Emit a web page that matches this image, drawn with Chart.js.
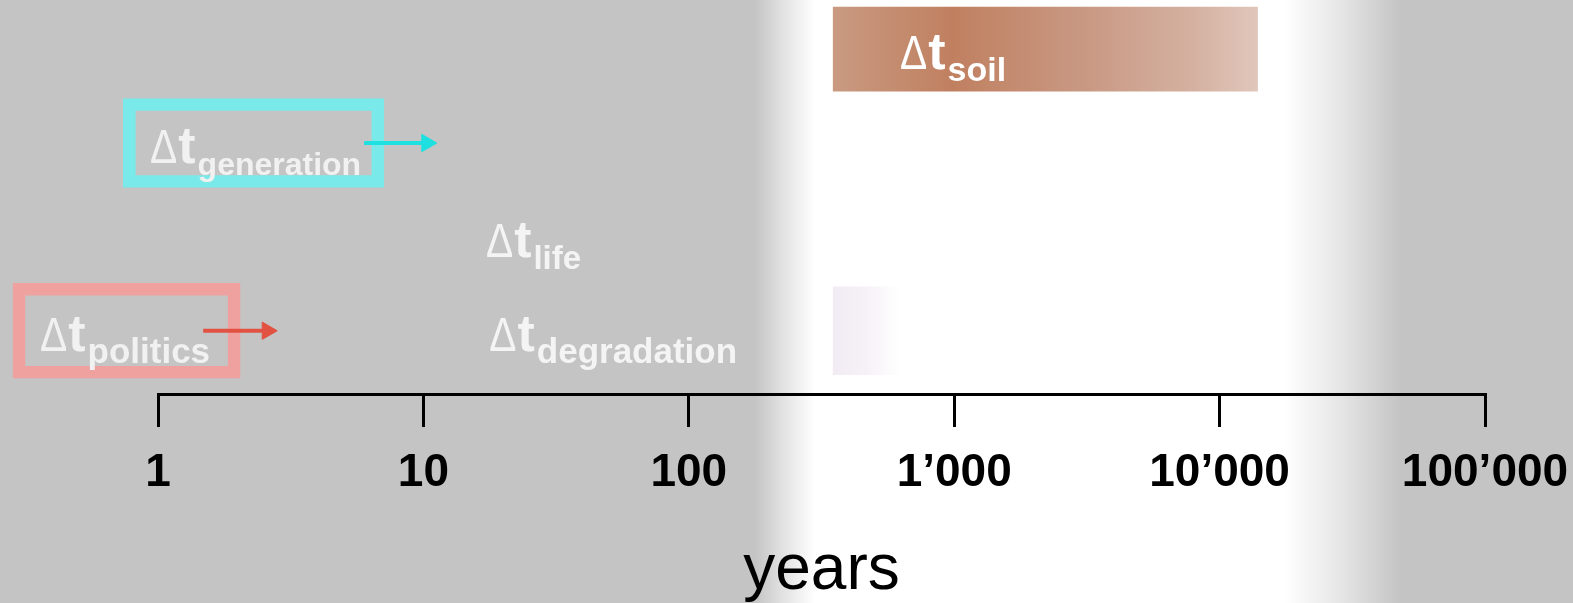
<!DOCTYPE html>
<html>
<head>
<meta charset="utf-8">
<script src="https://cdn.jsdelivr.net/npm/chart.js@4.4.1/dist/chart.umd.min.js"></script>
<style>
html,body{margin:0;padding:0;background:#c4c4c4;overflow:hidden}
#wrap{width:1573px;height:603px;position:relative}
</style>
</head>
<body>
<div id="wrap"><canvas id="c"></canvas></div>
<script>
// ---------------- data ----------------
const items = ['soil', 'generation', 'life', 'degradation', 'politics'];
const itemRows = [1, 2, 3, 4, 4];                 // timeline row of each item (top to bottom)
const soilRange = [350, 13900];                   // years
const degradationRange = [350, 620];              // years
const generationBox = [0.74, 7.1];                // years
const politicsBox = [0.284, 2.04];                // years
const generationArrow = [5.98, 10.3];             // years
const politicsArrow = [1.48, 2.58];               // years
const labelStartYears = [614, 0.917, 16.9, 17.4, 0.353];
const tickValues = [1, 10, 100, 1000, 10000, 100000];
const tickLabels = ['1', '10', '100', '1\u2019000', '10\u2019000', '100\u2019000'];
const axisTitle = 'years';
const whiteBandYears = [177, 230, 299, 17600, 28400, 47800];

// ---------------- styles / helpers ----------------
const rowOf = name => itemRows[items.indexOf(name)];
const GRAY = '#c4c4c4';
const labelColors = ['#ffffff', '#f1f1f1', '#f4f4f4', '#f4f4f4', '#f1f1f1'];
const subSizes = [34, 32, 33, 35, 35];
const FAM = '"Liberation Sans", Arial, sans-serif';

function hasFont(name) {
  const c = document.createElement('canvas').getContext('2d');
  c.font = '40px monospace';
  const w0 = c.measureText('years 1000').width;
  c.font = '40px "' + name + '", monospace';
  return c.measureText('years 1000').width !== w0;
}
const narrowOK = hasFont('Liberation Sans Narrow');
const titleFont = narrowOK
  ? {family: '"Liberation Sans Narrow", "Liberation Sans", Arial, sans-serif', size: 74, weight: 'normal', lineHeight: 1.2}
  : {family: FAM, size: 64, weight: 'normal', lineHeight: 1.2};

function hGrad(chart, range, stops) {
  const xs = chart.scales.x;
  const x0 = xs.getPixelForValue(range[0]);
  const x1 = xs.getPixelForValue(range[1]);
  const g = chart.ctx.createLinearGradient(x0, 0, x1, 0);
  stops.forEach(s => g.addColorStop(s[0], s[1]));
  return g;
}

const bgPlugin = {
  id: 'bg',
  beforeDraw(chart) {
    const ctx = chart.ctx, xs = chart.scales.x;
    const W = chart.width, H = chart.height;
    const px = whiteBandYears.map(v => Math.min(Math.max(xs.getPixelForValue(v) / W, 0), 1));
    const g = ctx.createLinearGradient(0, 0, W, 0);
    g.addColorStop(0, GRAY);
    g.addColorStop(px[0], GRAY);
    g.addColorStop(px[1], '#e4e4e4');
    g.addColorStop(px[2], '#ffffff');
    g.addColorStop(px[3], '#ffffff');
    g.addColorStop(px[4], '#e6e6e6');
    g.addColorStop(px[5], GRAY);
    g.addColorStop(1, GRAY);
    ctx.save();
    ctx.fillStyle = g;
    ctx.fillRect(0, 0, W, H);
    ctx.restore();
  }
};

const labelPlugin = {
  id: 'dtLabels',
  afterDatasetsDraw(chart) {
    const ctx = chart.ctx, xs = chart.scales.x, ys = chart.scales.y;
    items.forEach((name, i) => {
      const x = xs.getPixelForValue(labelStartYears[i]);
      const y = ys.getPixelForValue(itemRows[i]) + 20;
      ctx.save();
      ctx.fillStyle = labelColors[i];
      ctx.textAlign = 'left';
      ctx.textBaseline = 'alphabetic';
      // Delta (thin, slightly condensed)
      ctx.font = 'normal 48px ' + FAM;
      const dw = ctx.measureText('\u0394').width * 0.85;
      ctx.save();
      ctx.translate(x + 2, y);
      ctx.scale(0.85, 1);
      ctx.fillText('\u0394', 0, 0);
      ctx.restore();
      // t (bold)
      ctx.font = 'bold 52px ' + FAM;
      ctx.fillText('t', x + dw + 3, y);
      const tw = ctx.measureText('t').width;
      // subscript
      ctx.font = 'bold ' + subSizes[i] + 'px ' + FAM;
      ctx.fillText(name, x + dw + tw + 5, y + 12);
      ctx.restore();
    });
  }
};

const arrowDs = (range, row, color) => ({
  type: 'line',
  data: [{x: range[0], y: row}, {x: range[1], y: row}],
  borderColor: color,
  backgroundColor: color,
  borderWidth: 4,
  pointRadius: [0, 10],
  pointHoverRadius: [0, 10],
  pointStyle: 'triangle',
  rotation: 90,
  pointBackgroundColor: color,
  pointBorderColor: color,
  pointBorderWidth: 1,
  clip: false,
  order: -1
});

const chart = new Chart(document.getElementById('c'), {
  type: 'bar',
  data: {
    datasets: [
      {
        label: 'soil',
        data: [{x: soilRange, y: rowOf('soil')}],
        backgroundColor: c => c.chart.chartArea ? hGrad(c.chart, soilRange, [
          [0, '#c99a81'], [0.28, '#c08060'], [0.6, '#c99984'], [0.85, '#d5b1a1'], [1, '#e0c7bb']]) : '#c08060',
        barThickness: 84, grouped: false, clip: false, borderWidth: 0
      },
      {
        label: 'degradation',
        data: [{x: degradationRange, y: rowOf('degradation')}],
        backgroundColor: c => c.chart.chartArea ? hGrad(c.chart, degradationRange, [
          [0, '#f2ebf4'], [0.5, '#f6f1f7'], [1, '#ffffff']]) : '#f4eef5',
        barThickness: 88, grouped: false, clip: false, borderWidth: 0
      },
      {
        label: 'generation',
        data: [{x: generationBox, y: rowOf('generation')}],
        backgroundColor: 'rgba(0,0,0,0)', borderColor: '#7ae9e9', borderWidth: 12, borderSkipped: false,
        barThickness: 89, grouped: false, clip: false
      },
      {
        label: 'politics',
        data: [{x: politicsBox, y: rowOf('politics')}],
        backgroundColor: 'rgba(0,0,0,0)', borderColor: '#eea19e', borderWidth: 12, borderSkipped: false,
        barThickness: 95, grouped: false, clip: false
      },
      arrowDs(generationArrow, rowOf('generation'), '#1fe0e0'),
      arrowDs(politicsArrow, rowOf('politics'), '#e25243')
    ]
  },
  options: {
    indexAxis: 'y',
    responsive: true,
    maintainAspectRatio: false,
    animation: false,
    devicePixelRatio: 1,
    layout: {autoPadding: false, padding: {left: 158, right: 88, top: 0, bottom: 0}},
    plugins: {legend: {display: false}, tooltip: {enabled: false}},
    scales: {
      x: {
        type: 'logarithmic',
        position: 'bottom',
        min: 1, max: 100000,
        afterBuildTicks: s => { s.ticks = tickValues.map(v => ({value: v})); },
        afterFit: s => { s.height = 209; s.paddingLeft = 0; s.paddingRight = 0; },
        grid: {drawOnChartArea: false, drawTicks: true, tickLength: 33, color: '#000', lineWidth: 3},
        border: {display: true, color: '#000', width: 3},
        ticks: {
          autoSkip: false, maxRotation: 0, padding: 19, color: '#000',
          font: {family: FAM, size: 46, weight: 'bold'},
          callback: v => { const i = tickValues.indexOf(v); return i >= 0 ? tickLabels[i] : ''; }
        },
        title: {display: true, text: axisTitle, color: '#000', font: titleFont, padding: {top: 0, bottom: -7}}
      },
      y: {
        type: 'linear', display: false, reverse: true, offset: false, min: 0.476, max: 4.674
      }
    }
  },
  plugins: [bgPlugin, labelPlugin]
});
</script>
</body>
</html>
